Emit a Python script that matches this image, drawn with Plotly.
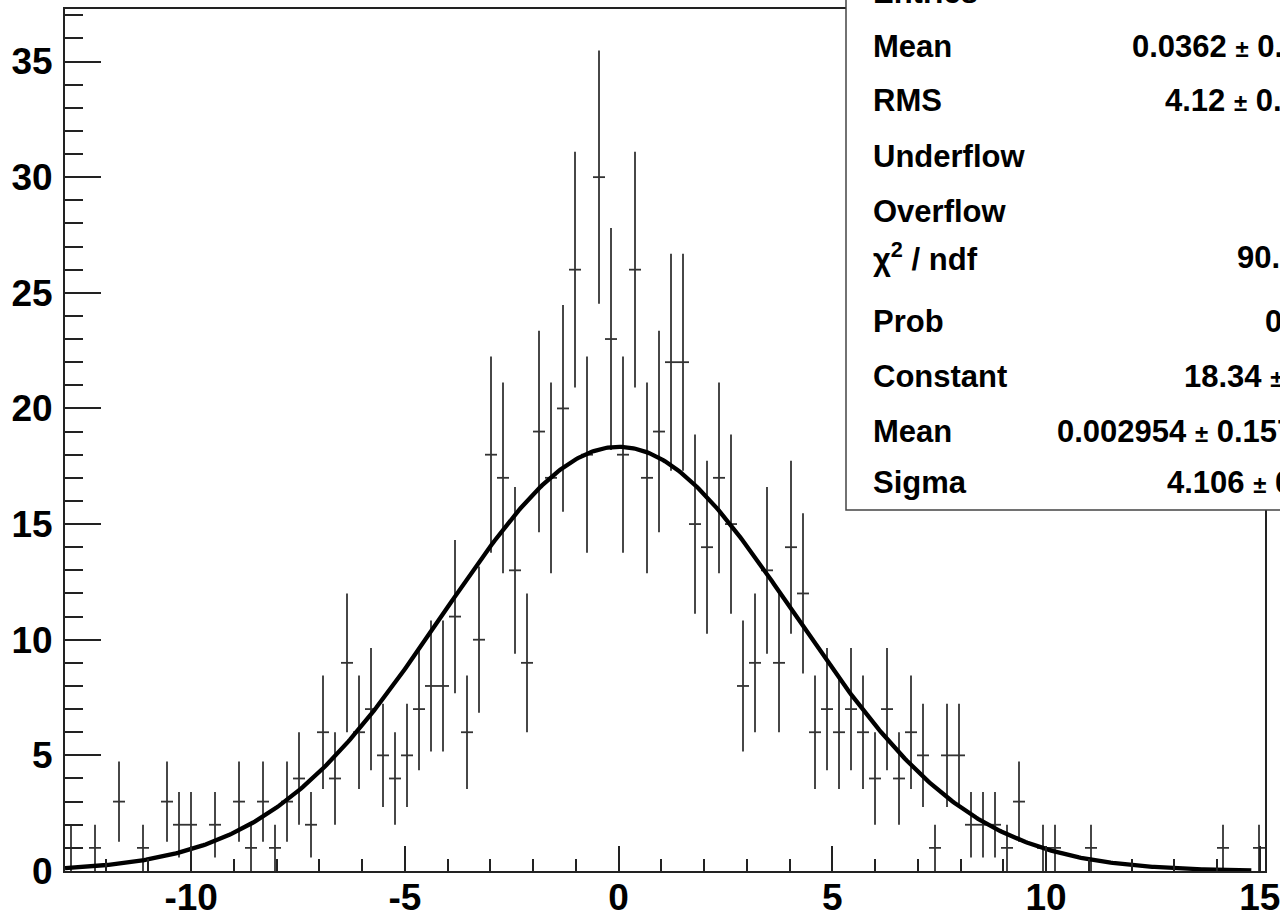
import numpy as np
import plotly.graph_objects as go

# ---- data ----
x_min = -12.95
x_max = 15.12
n_bins = 100
counts = [1, 0, 1, 0, 3, 0, 1, 0, 3, 2,
          2, 0, 2, 0, 3, 1, 3, 1, 3, 4,
          2, 6, 4, 9, 6, 7, 5, 4, 5, 7,
          8, 8, 11, 6, 10, 18, 17, 13, 9, 19,
          17, 20, 26, 18, 30, 23, 18, 26, 17, 19,
          22, 22, 15, 14, 17, 15, 8, 9, 13, 9,
          14, 12, 6, 7, 6, 7, 6, 4, 7, 4,
          6, 5, 1, 5, 5, 2, 2, 2, 1, 3,
          0, 1, 1, 0, 0, 1, 0, 0, 0, 0,
          0, 0, 0, 0, 0, 0, 1, 0, 0, 1]

x_tick_vals = [-10, -5, 0, 5, 10, 15]
x_tick_text = ["-10", "-5", "0", "5", "10", "15"]
y_tick_vals = [0, 5, 10, 15, 20, 25, 30, 35]
y_tick_text = ["0", "5", "10", "15", "20", "25", "30", "35"]

# fit parameters (gaus) from the stats box
fit_constant = 18.34
fit_mean = 0.002954
fit_sigma = 4.106
fit_x_end = 14.8

stat_labels = ["Entries", "Mean", "RMS", "Underflow", "Overflow",
               "χ<sup>2</sup> / ndf", "Prob", "Constant", "Mean", "Sigma"]
stat_values = [None, "0.0362 ± 0.159", "4.12 ± 0.112", None, None,
               "90.51 / 97", "0.6676", "18.34 ± 0.88", "0.002954 ± 0.1573", "4.106 ± 0.124"]

# ---- layout geometry (pixels) ----
W, H = 1280, 915
L, R, T, B = 65, 15, 9, 44
plot_w = W - L - R
plot_h = H - T - B
row_centers_px = [-8, 46.7, 101, 156, 212, 257, 321, 376, 431.5, 482.5]
value_left_px = [None, 1130, 1163, None, None, 1235, 1263, 1182, 1055, 1165]

def px_x(px):
    return (px - L) / plot_w
def px_y(py):
    return (H - B - py) / plot_h

counts_arr = np.array(counts, dtype=float)
bw = (x_max - x_min) / n_bins
centers = x_min + bw * (np.arange(n_bins) + 0.5)
mask = counts_arr > 0

fig = go.Figure()
fig.add_trace(go.Scatter(
    x=centers[mask], y=counts_arr[mask], mode="markers",
    marker=dict(size=2, color="rgba(0,0,0,0)"),
    error_y=dict(type="data", array=np.sqrt(counts_arr[mask]), width=0, thickness=1.8, color="#333333"),
    error_x=dict(type="constant", value=bw / 2, width=0, thickness=1.8, color="#333333"),
    showlegend=False, hoverinfo="skip"))

xf = np.linspace(x_min, fit_x_end, 600)
yf = fit_constant * np.exp(-0.5 * ((xf - fit_mean) / fit_sigma) ** 2)
fig.add_trace(go.Scatter(x=xf, y=yf, mode="lines", line=dict(color="black", width=4.3),
                         showlegend=False, hoverinfo="skip"))

tickfont = dict(family="Liberation Sans", size=37, color="black", weight="bold")
fig.update_xaxes(range=[x_min, x_max], tickmode="array", tickvals=x_tick_vals, ticktext=x_tick_text,
                 ticks="inside", ticklen=25, automargin=False, ticklabeloverflow="allow",
                 ticklabelstandoff=-7,
                 tickwidth=1.5, tickcolor="#222", showline=True, linecolor="#222", linewidth=2,
                 mirror=True, showgrid=False, zeroline=False, tickfont=tickfont,
                 minor=dict(dtick=1, tick0=0, ticks="inside", ticklen=12, tickwidth=1.5, tickcolor="#222"))
fig.update_yaxes(range=[0, 37.27], tickmode="array", tickvals=y_tick_vals, ticktext=y_tick_text,
                 ticks="inside", ticklen=36, automargin=False, ticklabeloverflow="allow",
                 tickwidth=1.5, tickcolor="#222", showline=True, linecolor="#222", linewidth=2,
                 mirror=True, showgrid=False, zeroline=False, tickfont=tickfont,
                 ticklabelstandoff=3,
                 minor=dict(dtick=1, tick0=0, ticks="inside", ticklen=18, tickwidth=1.5, tickcolor="#222"))

shapes = [dict(type="rect", xref="paper", yref="paper",
               x0=px_x(846), x1=px_x(1320), y0=px_y(510), y1=px_y(-30),
               line=dict(color="#444", width=1.5), fillcolor="white", layer="above")]

annotations = []
sfont = dict(family="Liberation Sans", size=31, color="black", weight="bold")
for i, lab in enumerate(stat_labels):
    yc = row_centers_px[i]
    annotations.append(dict(xref="paper", yref="paper", x=px_x(871), y=px_y(yc),
                            xanchor="left", yanchor="middle", text=lab, showarrow=False, font=sfont))
    if stat_values[i] is not None:
        txt = stat_values[i].replace("±", "<span style='font-size:24px'>±</span>")
        annotations.append(dict(xref="paper", yref="paper", x=px_x(value_left_px[i]), y=px_y(yc),
                                xanchor="left", yanchor="middle", text=txt, showarrow=False, font=sfont))

fig.update_layout(width=W, height=H, margin=dict(l=L, r=R, t=T, b=B, autoexpand=False),
                  paper_bgcolor="white", plot_bgcolor="white",
                  shapes=shapes, annotations=annotations)

fig.write_html("out.html")
